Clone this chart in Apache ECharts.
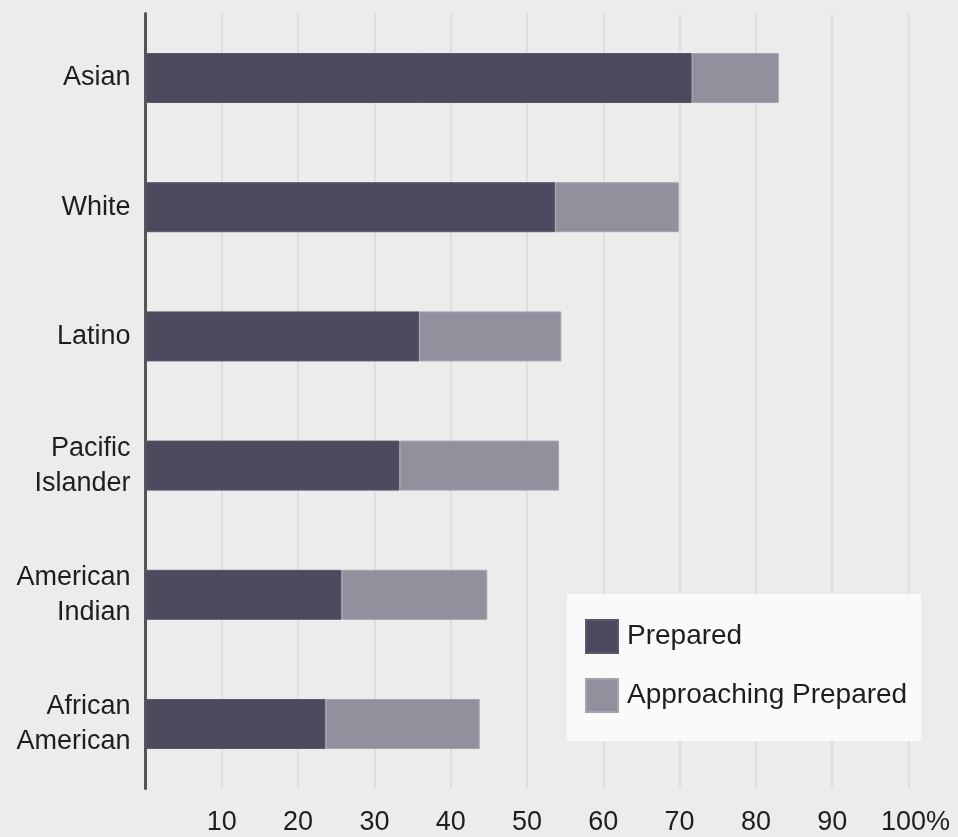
<!DOCTYPE html>
<html>
<head>
<meta charset="utf-8">
<script src="https://cdn.jsdelivr.net/npm/echarts@6/dist/echarts.min.js"></script>
<style>
html,body{margin:0;padding:0;background:#ebeceb;}
#chart{width:958px;height:837px;}
</style>
</head>
<body>
<div id="chart"></div>
<script>
var categories = ['Asian', 'White', 'Latino', 'Pacific\nIslander', 'American\nIndian', 'African\nAmerican'];
var prepared = [71.6, 53.7, 35.9, 33.3, 25.7, 23.6];
var approaching = [11.4, 16.2, 18.6, 20.9, 19.1, 20.2];
var seriesNames = ['Prepared', 'Approaching Prepared'];
var xTicks = [0, 10, 20, 30, 40, 50, 60, 70, 80, 90, 100];

var chart = echarts.init(document.getElementById('chart'), null, {renderer: 'canvas'});
var font = 'Liberation Sans, Arial, Helvetica, sans-serif';
chart.setOption({
  backgroundColor: '#ebeceb',
  animation: false,
  grid: {left: 145.5, right: 49.5, top: 13.4, bottom: 48.4},
  xAxis: {
    type: 'value', min: xTicks[0], max: xTicks[xTicks.length - 1], interval: 10,
    axisLine: {show: false}, axisTick: {show: false},
    splitLine: {show: true, lineStyle: {color: '#d9dad9', width: 1.5}},
    axisLabel: {
      fontSize: 27, fontFamily: font, color: '#1e1e1e', margin: 20,
      formatter: function (v) { return v === 0 ? '' : (v === 100 ? '{p|' + v + '%}' : String(v)); },
      rich: {p: {fontSize: 27, fontFamily: font, color: '#1e1e1e', padding: [0, 0, 0, 14]}}
    }
  },
  yAxis: {
    type: 'category', data: categories, inverse: true,
    axisLine: {show: true, lineStyle: {color: '#555555', width: 3}},
    axisTick: {show: false},
    axisLabel: {fontSize: 27, fontFamily: font, color: '#1e1e1e', margin: 15, lineHeight: 35, align: 'right'}
  },
  graphic: [{
    type: 'rect', left: 567, top: 594, z: 5,
    shape: {width: 354, height: 147},
    style: {fill: 'rgba(252,252,252,0.9)'}
  }],
  legend: {
    orient: 'vertical', left: 585, top: 619, z: 10,
    padding: 0, itemWidth: 32, itemHeight: 33, itemGap: 24,
    icon: 'rect',
    textStyle: {fontSize: 28, fontFamily: font, color: '#1e1e1e', padding: [0, 0, 0, 4]},
    data: seriesNames
  },
  series: [
    {
      name: seriesNames[0], type: 'bar', stack: 'a', data: prepared, barWidth: 50,
      itemStyle: {color: '#4b4a5e', borderColor: '#5a586b', borderWidth: 1}
    },
    {
      name: seriesNames[1], type: 'bar', stack: 'a', data: approaching, barWidth: 50,
      itemStyle: {color: '#948f9c', borderColor: '#a7a2ad', borderWidth: 1}
    }
  ]
});
</script>
</body>
</html>
